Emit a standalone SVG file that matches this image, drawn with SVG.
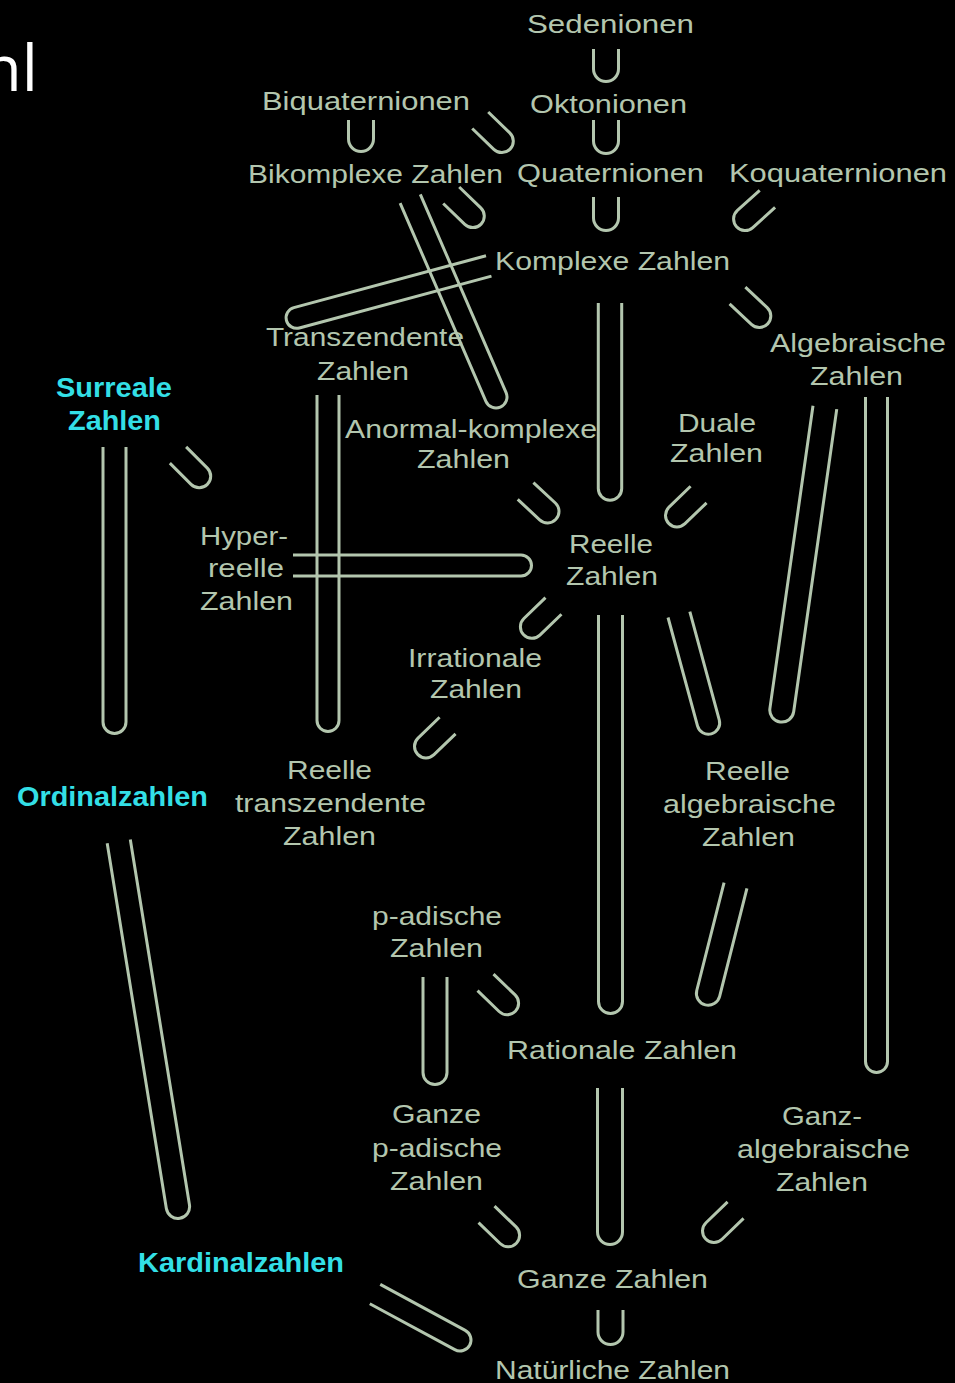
<svg xmlns="http://www.w3.org/2000/svg" width="955" height="1383" viewBox="0 0 955 1383">
<style>
.bg{fill:#000}
.t{font-family:"Liberation Sans",Arial,sans-serif;font-size:26px;fill:#b3c6ae;text-anchor:middle}
.c{font-family:"Liberation Sans",Arial,sans-serif;font-size:27px;font-weight:bold;fill:#33dfe6;text-anchor:middle}
.title{font-family:"Open Sans","Noto Sans",sans-serif;font-size:64px;fill:#ffffff;text-anchor:end}
.u{fill:none;stroke:#b3c6ae;stroke-width:3;stroke-linecap:butt}
</style>
<rect class="bg" x="0" y="0" width="955" height="1383"/>
<text class="title" x="38" y="91">nl</text>
<g id="connectors">
<path class="u" transform="translate(606,69) rotate(0)" d="M -12.5 -20 V 0 A 12.5 12.5 0 0 0 12.5 0 V -20"/>
<path class="u" transform="translate(606,141) rotate(0)" d="M -12.5 -21 V 0 A 12.5 12.5 0 0 0 12.5 0 V -21"/>
<path class="u" transform="translate(606,218) rotate(0)" d="M -12.5 -21 V 0 A 12.5 12.5 0 0 0 12.5 0 V -21"/>
<path class="u" transform="translate(361,139) rotate(0)" d="M -12.5 -19 V 0 A 12.5 12.5 0 0 0 12.5 0 V -19"/>
<path class="u" transform="translate(501.8,141.1) rotate(-46)" d="M -11.5 -30 V 0 A 11.5 11.5 0 0 0 11.5 0 V -30"/>
<path class="u" transform="translate(745.1,219) rotate(48)" d="M -11.5 -30 V 0 A 11.5 11.5 0 0 0 11.5 0 V -30"/>
<path class="u" transform="translate(472.8,216.1) rotate(-46)" d="M -11.5 -30 V 0 A 11.5 11.5 0 0 0 11.5 0 V -30"/>
<path class="u" transform="translate(296.6,317.8) rotate(74.9)" d="M -10.5 -199 V 0 A 10.5 10.5 0 0 0 10.5 0 V -199"/>
<path class="u" transform="translate(496,397) rotate(-23.4)" d="M -11 -216 V 0 A 11 11 0 0 0 11 0 V -216"/>
<path class="u" transform="translate(610,488.5) rotate(0)" d="M -11.7 -185.5 V 0 A 11.7 11.7 0 0 0 11.7 0 V -185.5"/>
<path class="u" transform="translate(759.3,316) rotate(-46.7)" d="M -11.5 -30 V 0 A 11.5 11.5 0 0 0 11.5 0 V -30"/>
<path class="u" transform="translate(114.5,722) rotate(0)" d="M -11.5 -275 V 0 A 11.5 11.5 0 0 0 11.5 0 V -275"/>
<path class="u" transform="translate(199.2,476.2) rotate(-45)" d="M -11.5 -30 V 0 A 11.5 11.5 0 0 0 11.5 0 V -30"/>
<path class="u" transform="translate(328,720.5) rotate(0)" d="M -11 -325.5 V 0 A 11 11 0 0 0 11 0 V -325.5"/>
<path class="u" transform="translate(521,565.5) rotate(-90)" d="M -10.5 -228 V 0 A 10.5 10.5 0 0 0 10.5 0 V -228"/>
<path class="u" transform="translate(547.5,511.4) rotate(-47)" d="M -11.5 -30 V 0 A 11.5 11.5 0 0 0 11.5 0 V -30"/>
<path class="u" transform="translate(677,515.4) rotate(46)" d="M -11.5 -30 V 0 A 11.5 11.5 0 0 0 11.5 0 V -30"/>
<path class="u" transform="translate(531.9,626.8) rotate(46)" d="M -11.5 -30 V 0 A 11.5 11.5 0 0 0 11.5 0 V -30"/>
<path class="u" transform="translate(426,746.4) rotate(46)" d="M -11.5 -30 V 0 A 11.5 11.5 0 0 0 11.5 0 V -30"/>
<path class="u" transform="translate(610.5,1001.5) rotate(0)" d="M -12 -386.5 V 0 A 12 12 0 0 0 12 0 V -386.5"/>
<path class="u" transform="translate(708.4,723) rotate(-15.2)" d="M -11.3 -112.4 V 0 A 11.3 11.3 0 0 0 11.3 0 V -112.4"/>
<path class="u" transform="translate(781.8,710.1) rotate(8.1)" d="M -12 -305.7 V 0 A 12 12 0 0 0 12 0 V -305.7"/>
<path class="u" transform="translate(876.5,1061.5) rotate(0)" d="M -11 -664.5 V 0 A 11 11 0 0 0 11 0 V -664.5"/>
<path class="u" transform="translate(708.2,993.4) rotate(14.2)" d="M -11.8 -111.3 V 0 A 11.8 11.8 0 0 0 11.8 0 V -111.3"/>
<path class="u" transform="translate(435,1072.5) rotate(0)" d="M -12 -95.5 V 0 A 12 12 0 0 0 12 0 V -95.5"/>
<path class="u" transform="translate(507.1,1003.2) rotate(-46)" d="M -11.5 -30 V 0 A 11.5 11.5 0 0 0 11.5 0 V -30"/>
<path class="u" transform="translate(610,1232) rotate(0)" d="M -12.5 -144 V 0 A 12.5 12.5 0 0 0 12.5 0 V -144"/>
<path class="u" transform="translate(508.1,1235.2) rotate(-46)" d="M -11.5 -30 V 0 A 11.5 11.5 0 0 0 11.5 0 V -30"/>
<path class="u" transform="translate(714,1231) rotate(46)" d="M -11.5 -30 V 0 A 11.5 11.5 0 0 0 11.5 0 V -30"/>
<path class="u" transform="translate(610.5,1332) rotate(0)" d="M -12.5 -22 V 0 A 12.5 12.5 0 0 0 12.5 0 V -22"/>
<path class="u" transform="translate(177.9,1206.7) rotate(-9.2)" d="M -11.7 -370 V 0 A 11.7 11.7 0 0 0 11.7 0 V -370"/>
<path class="u" transform="translate(460,1340) rotate(-61.6)" d="M -11 -96.6 V 0 A 11 11 0 0 0 11 0 V -96.6"/>
</g>
<g id="sedenionen"><text class="t" x="610.5" y="33" textLength="167" lengthAdjust="spacingAndGlyphs">Sedenionen</text></g>
<g id="oktonionen"><text class="t" x="608.5" y="113" textLength="157" lengthAdjust="spacingAndGlyphs">Oktonionen</text></g>
<g id="biquaternionen"><text class="t" x="366" y="110" textLength="208" lengthAdjust="spacingAndGlyphs">Biquaternionen</text></g>
<g id="bikomplexe"><text class="t" x="375.5" y="183" textLength="255" lengthAdjust="spacingAndGlyphs">Bikomplexe Zahlen</text></g>
<g id="quaternionen"><text class="t" x="610.5" y="182" textLength="187" lengthAdjust="spacingAndGlyphs">Quaternionen</text></g>
<g id="koquaternionen"><text class="t" x="838" y="182" textLength="218" lengthAdjust="spacingAndGlyphs">Koquaternionen</text></g>
<g id="komplexe"><text class="t" x="612.5" y="270" textLength="235" lengthAdjust="spacingAndGlyphs">Komplexe Zahlen</text></g>
<g id="transzendente"><text class="t" x="365" y="346" textLength="198" lengthAdjust="spacingAndGlyphs">Transzendente</text><text class="t" x="363" y="380" textLength="92" lengthAdjust="spacingAndGlyphs">Zahlen</text></g>
<g id="algebraische"><text class="t" x="858" y="352" textLength="176" lengthAdjust="spacingAndGlyphs">Algebraische</text><text class="t" x="856.5" y="385" textLength="93" lengthAdjust="spacingAndGlyphs">Zahlen</text></g>
<g id="surreale"><text class="c" x="114" y="397" textLength="116" lengthAdjust="spacingAndGlyphs">Surreale</text><text class="c" x="114.5" y="429.5" textLength="93" lengthAdjust="spacingAndGlyphs">Zahlen</text></g>
<g id="anormal-komplexe"><text class="t" x="471" y="438" textLength="252" lengthAdjust="spacingAndGlyphs">Anormal-komplexe</text><text class="t" x="463.5" y="468" textLength="93" lengthAdjust="spacingAndGlyphs">Zahlen</text></g>
<g id="duale"><text class="t" x="717" y="432" textLength="78" lengthAdjust="spacingAndGlyphs">Duale</text><text class="t" x="716.5" y="462" textLength="93" lengthAdjust="spacingAndGlyphs">Zahlen</text></g>
<g id="hyperreelle"><text class="t" x="244" y="545" textLength="88" lengthAdjust="spacingAndGlyphs">Hyper-</text><text class="t" x="246" y="577" textLength="76" lengthAdjust="spacingAndGlyphs">reelle</text><text class="t" x="246.5" y="610" textLength="93" lengthAdjust="spacingAndGlyphs">Zahlen</text></g>
<g id="reelle"><text class="t" x="611" y="553" textLength="84" lengthAdjust="spacingAndGlyphs">Reelle</text><text class="t" x="612" y="585" textLength="92" lengthAdjust="spacingAndGlyphs">Zahlen</text></g>
<g id="irrationale"><text class="t" x="475" y="667" textLength="134" lengthAdjust="spacingAndGlyphs">Irrationale</text><text class="t" x="476" y="698" textLength="92" lengthAdjust="spacingAndGlyphs">Zahlen</text></g>
<g id="ordinalzahlen"><text class="c" x="112.5" y="806" textLength="191" lengthAdjust="spacingAndGlyphs">Ordinalzahlen</text></g>
<g id="reelle-transzendente"><text class="t" x="329.5" y="779" textLength="85" lengthAdjust="spacingAndGlyphs">Reelle</text><text class="t" x="330.5" y="812" textLength="191" lengthAdjust="spacingAndGlyphs">transzendente</text><text class="t" x="329.5" y="845" textLength="93" lengthAdjust="spacingAndGlyphs">Zahlen</text></g>
<g id="reelle-algebraische"><text class="t" x="747.5" y="780" textLength="85" lengthAdjust="spacingAndGlyphs">Reelle</text><text class="t" x="749.5" y="813" textLength="173" lengthAdjust="spacingAndGlyphs">algebraische</text><text class="t" x="748.5" y="846" textLength="93" lengthAdjust="spacingAndGlyphs">Zahlen</text></g>
<g id="p-adische"><text class="t" x="437" y="925" textLength="130" lengthAdjust="spacingAndGlyphs">p-adische</text><text class="t" x="436.5" y="957" textLength="93" lengthAdjust="spacingAndGlyphs">Zahlen</text></g>
<g id="rationale"><text class="t" x="622" y="1059" textLength="230" lengthAdjust="spacingAndGlyphs">Rationale Zahlen</text></g>
<g id="ganze-p-adische"><text class="t" x="436.5" y="1123" textLength="89" lengthAdjust="spacingAndGlyphs">Ganze</text><text class="t" x="437" y="1157" textLength="130" lengthAdjust="spacingAndGlyphs">p-adische</text><text class="t" x="436.5" y="1190" textLength="93" lengthAdjust="spacingAndGlyphs">Zahlen</text></g>
<g id="ganz-algebraische"><text class="t" x="822" y="1125" textLength="80" lengthAdjust="spacingAndGlyphs">Ganz-</text><text class="t" x="823.5" y="1158" textLength="173" lengthAdjust="spacingAndGlyphs">algebraische</text><text class="t" x="822" y="1191" textLength="92" lengthAdjust="spacingAndGlyphs">Zahlen</text></g>
<g id="kardinalzahlen"><text class="c" x="241" y="1272" textLength="206" lengthAdjust="spacingAndGlyphs">Kardinalzahlen</text></g>
<g id="ganze"><text class="t" x="612.5" y="1288" textLength="191" lengthAdjust="spacingAndGlyphs">Ganze Zahlen</text></g>
<g id="natuerliche"><text class="t" x="612.5" y="1379" textLength="235" lengthAdjust="spacingAndGlyphs">Natürliche Zahlen</text></g>
</svg>
